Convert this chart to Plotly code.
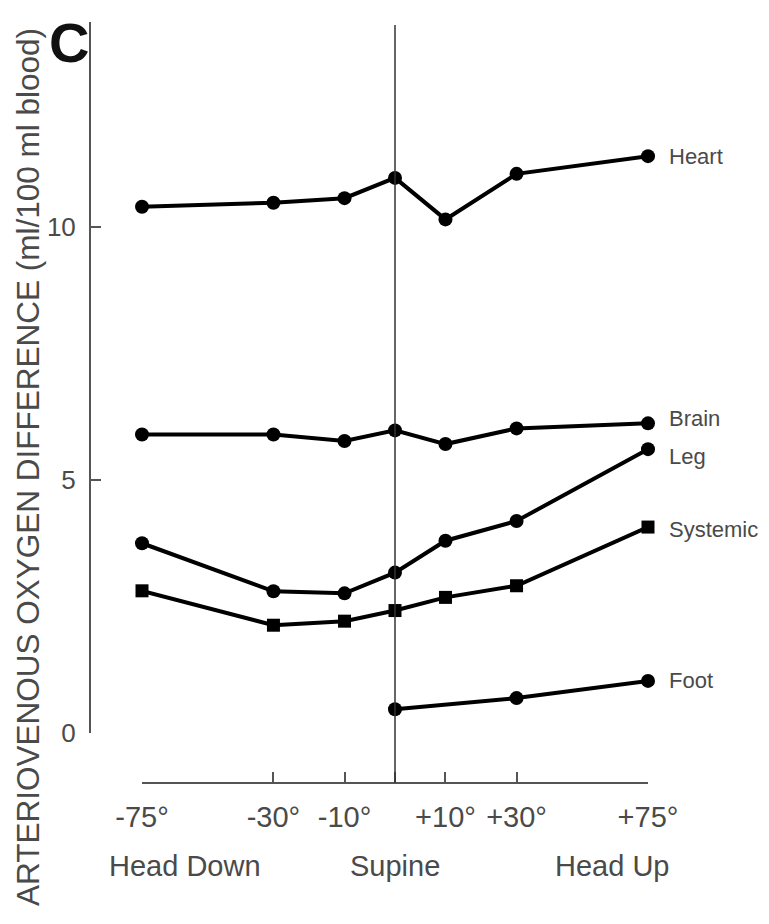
import numpy as np
import plotly.graph_objects as go

# ---- data ----
angles = [-75, -30, -10, 0, 10, 30, 75]
tick_labels = ["-75°", "-30°", "-10°", "", "+10°", "+30°", "+75°"]
heart = [10.40, 10.48, 10.57, 10.97, 10.15, 11.05, 11.40]
brain = [5.90, 5.90, 5.77, 5.98, 5.71, 6.02, 6.12]
leg = [3.75, 2.80, 2.76, 3.17, 3.80, 4.19, 5.61]
systemic = [2.81, 2.13, 2.21, 2.42, 2.68, 2.91, 4.07]
foot_angles = [0, 30, 75]
foot = [0.47, 0.69, 1.03]
position_labels = ["Head Down", "Supine", "Head Up"]
y_title = "ARTERIOVENOUS OXYGEN DIFFERENCE (ml/100 ml blood)"

def tx(a):
    a = np.asarray(a, dtype=float)
    return np.sign(a) * np.abs(a) ** 0.8

# page has an 8px body margin; work in page pixel coordinates
OFF = 8
W, H = 769 - 2 * OFF, 924 - 2 * OFF
ML = 90 - OFF
MT = 22 - OFF
PLOT_R = 648 - OFF
PLOT_B = 783 - OFF
MR = W - PLOT_R
MB = H - PLOT_B
PW, PH = PLOT_R - ML, PLOT_B - MT

def px(x):
    return (x - OFF - ML) / PW

def py(y):
    return (PLOT_B - (y - OFF)) / PH

FONT = "Liberation Sans"
GRAY = "#4a4a4a"

fig = go.Figure()
series = [
    ("Heart", angles, heart, "circle", 0.0),
    ("Brain", angles, brain, "circle", 0.1),
    ("Leg", angles, leg, "circle", -0.15),
    ("Systemic", angles, systemic, "square", -0.05),
    ("Foot", foot_angles, foot, "circle", 0.0),
]
for name, xs, ys, sym, off in series:
    fig.add_trace(go.Scatter(
        x=tx(xs), y=ys, mode="lines+markers", name=name,
        line=dict(color="black", width=4),
        marker=dict(symbol=sym, size=14 if sym == "circle" else 13, color="black"),
        showlegend=False, cliponaxis=False,
    ))
    fig.add_annotation(x=px(667), xref="paper", y=ys[-1] + off, yref="y",
                       text=name, showarrow=False, xanchor="left", yanchor="middle",
                       font=dict(family=FONT, size=22, color=GRAY))

# vertical supine line
fig.add_shape(type="line", xref="x", yref="paper", x0=0, x1=0, y0=0, y1=py(25),
              line=dict(color="#333333", width=1.5))

xc = [185, 395, 612]
for t, x in zip(position_labels, xc):
    fig.add_annotation(x=px(x), xref="paper", y=py(866), yref="paper", text=t,
                       showarrow=False, xanchor="center", yanchor="middle",
                       font=dict(family=FONT, size=29, color=GRAY))

fig.add_annotation(x=px(28), xref="paper", y=py(467), yref="paper", text=y_title,
                   textangle=-90, showarrow=False, xanchor="center", yanchor="middle",
                   font=dict(family=FONT, size=31.5, color=GRAY))
fig.add_annotation(x=px(69), xref="paper", y=py(43), yref="paper", text="<b>C</b>",
                   showarrow=False, xanchor="center", yanchor="middle",
                   font=dict(family="Liberation Sans", size=56, color="#111111"))

fig.update_layout(
    width=W, height=H, margin=dict(l=ML, r=MR, t=MT, b=MB),
    paper_bgcolor="white", plot_bgcolor="white",
    xaxis=dict(domain=[px(142), 1], range=[float(tx(-75)), float(tx(75))],
               anchor="free", position=0, tickmode="array",
               tickvals=tx(angles), ticktext=tick_labels,
               ticks="inside", ticklen=10, tickwidth=2, tickcolor="#555555",
               showline=True, linecolor="#555555", linewidth=2,
               showgrid=False, zeroline=False, ticklabelstandoff=8,
               tickfont=dict(family=FONT, size=29, color=GRAY)),
    yaxis=dict(domain=[py(733), 1], range=[0, (733 - 22) / 50.6],
               anchor="free", position=0, tickvals=[0, 5, 10],
               ticks="inside", ticklen=10, tickwidth=2, tickcolor="#555555",
               showline=True, linecolor="#555555", linewidth=2,
               showgrid=False, zeroline=False, ticklabelstandoff=8,
               tickfont=dict(family=FONT, size=26, color=GRAY)),
)
fig.write_html("out.html")
